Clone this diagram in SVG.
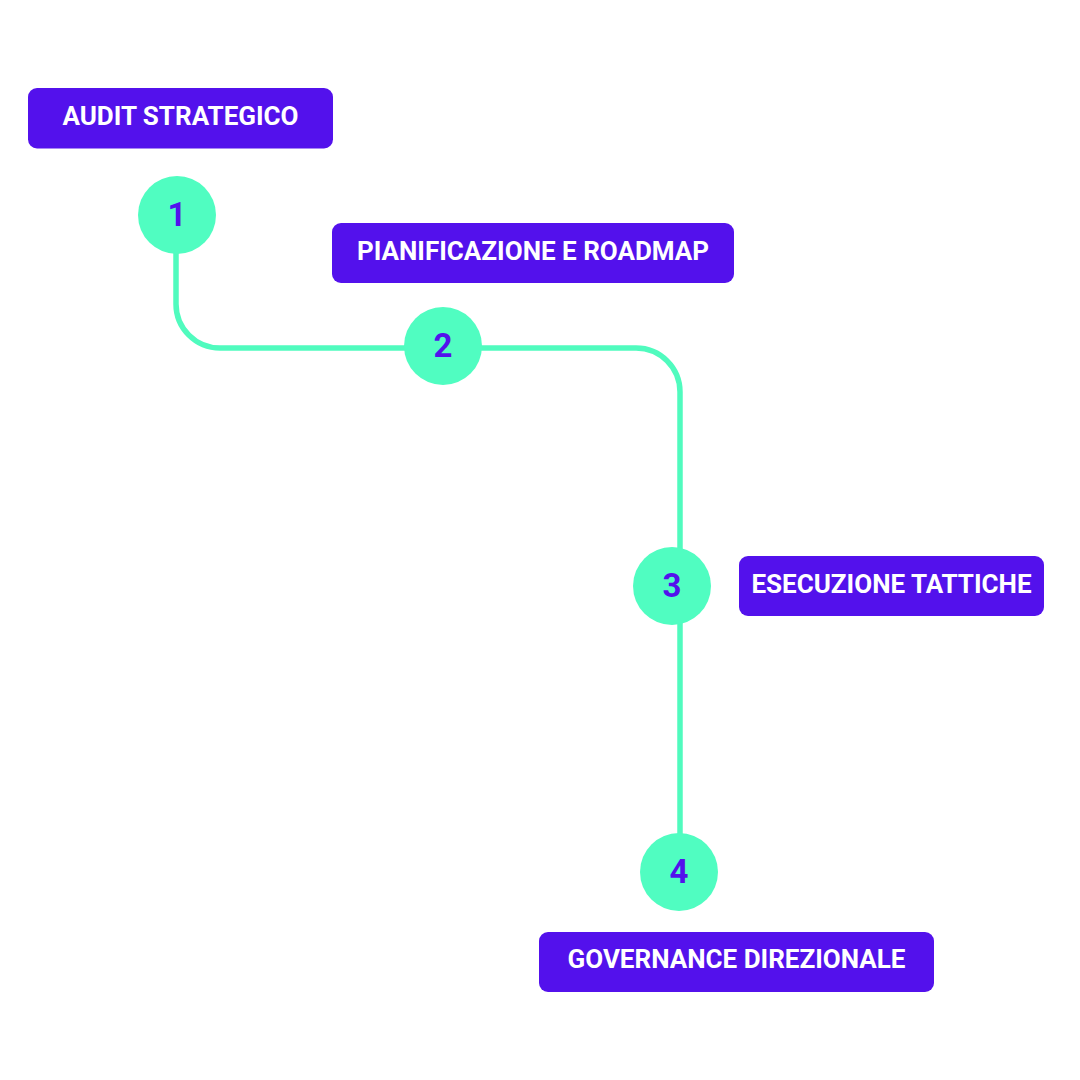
<svg xmlns="http://www.w3.org/2000/svg" width="1080" height="1080" viewBox="0 0 1080 1080">
<style>
.box{fill:#5311ec}
.lbl{font-family:Roboto,"Liberation Sans",sans-serif;font-weight:700;font-size:26px;fill:#fff;text-anchor:middle}
.c{fill:#50fdc1}
.n{font-family:Roboto,"Liberation Sans",sans-serif;font-weight:700;font-size:33px;fill:#5311ec;text-anchor:middle}
.line{fill:none;stroke:#50fbbe;stroke-width:5.500}
</style>
<rect width="1080" height="1080" fill="#fff"/>
<g id="connectors">
<path class="line" d="M176 215V304A44 44 0 0 0 220 348H636A44 44 0 0 1 680 392V872"/>
</g>
<g id="label-1"><rect class="box" x="28" y="88" width="305" height="60.500" rx="9"/><text class="lbl" x="180.500" y="125">AUDIT STRATEGICO</text></g>
<g id="label-2"><rect class="box" x="332" y="223" width="402" height="60" rx="9"/><text class="lbl" x="533" y="260">PIANIFICAZIONE E ROADMAP</text></g>
<g id="label-3"><rect class="box" x="739" y="556" width="305" height="60" rx="9"/><text class="lbl" x="891.500" y="593">ESECUZIONE TATTICHE</text></g>
<g id="label-4"><rect class="box" x="539" y="932" width="395" height="60" rx="9"/><text class="lbl" x="736.500" y="968">GOVERNANCE DIREZIONALE</text></g>
<g id="node-1"><circle class="c" cx="177" cy="215" r="39"/><text class="n" x="177" y="226">1</text></g>
<g id="node-2"><circle class="c" cx="443" cy="346" r="39"/><text class="n" x="443" y="357">2</text></g>
<g id="node-3"><circle class="c" cx="672" cy="586" r="39"/><text class="n" x="672" y="597">3</text></g>
<g id="node-4"><circle class="c" cx="679" cy="872" r="39"/><text class="n" x="679" y="883">4</text></g>
</svg>
